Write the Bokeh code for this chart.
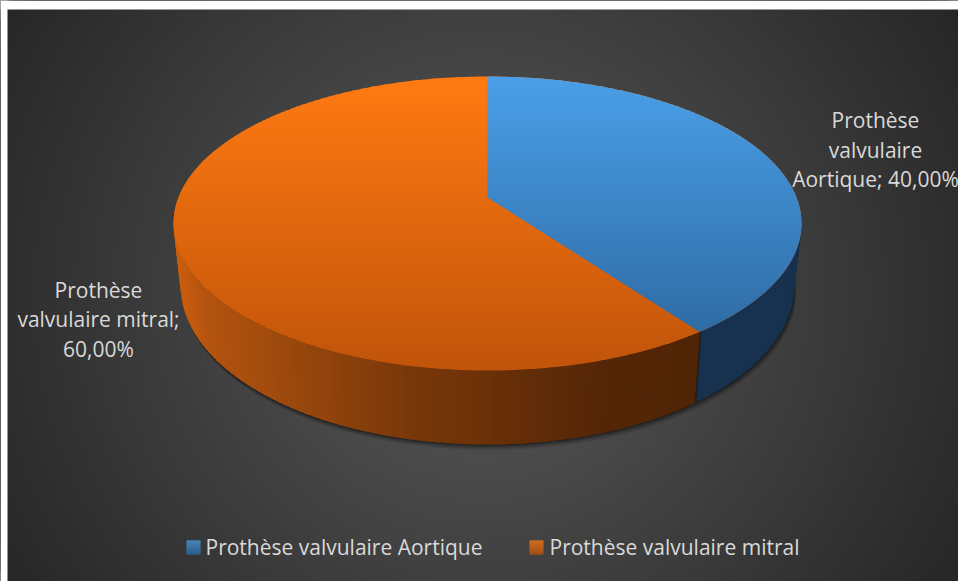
import numpy as np
from bokeh.plotting import figure
from bokeh.models import Range1d
from bokeh.core.properties import value
from bokeh.embed import file_html
from bokeh.resources import INLINE

categories = ["Prothèse valvulaire Aortique", "Prothèse valvulaire mitral"]
shares = [40.0, 60.0]
label_lines = [["Prothèse", "valvulaire", "Aortique; 40,00%"],
               ["Prothèse", "valvulaire mitral;", "60,00%"]]
top_colors = [((74, 159, 232), (47, 108, 165)), ((255, 122, 18), (192, 84, 10))]
FONT = "Open Sans"
LABEL = "#d9d9d9"

W, H = 958, 581
p = figure(width=W, height=H, x_range=Range1d(0, 958), y_range=Range1d(581, 0),
           output_backend="svg", toolbar_location=None, min_border=0,
           background_fill_color="#262626", border_fill_color="white")
p.axis.visible = False
p.grid.visible = False
p.outline_line_color = None

# radial background: one ring per grey level, outermost first
BG_X, BG_Y = 480.0, 295.0
levels = np.arange(38, 91)
radii = (90.5 - levels) / 0.093
p.circle(x=[BG_X] * len(levels), y=[BG_Y] * len(levels), radius=radii,
         fill_color=["#%02x%02x%02x" % (g, g, g) for g in levels], line_color=None)
p.quad(left=[0, 0], right=[7, 958], top=[0, 0], bottom=[581, 9], fill_color="white", line_color=None)

# pie geometry: a projective view of a unit disc
CX, C, A, B, K = 487.0, -0.1769, 107.56, 197.0, 309.0
S_X, S_Y, Y_REF, Y_BASE = 0.977, 1.077, 370.0, 444.0


def top_pt(t):
    t = np.radians(t)
    x, y = np.sin(t), -np.cos(t)
    den = 1 + C * y
    return CX + K * x / den, (A * y + B) / den


def base_pt(t):
    x, y = top_pt(t)
    return CX + S_X * (x - CX), Y_BASE + S_Y * (y - Y_REF)


def clip_band(xs, ys, y0, y1):
    def clip(px, py, lim, keep_below):
        ox, oy = [], []
        n = len(px)
        for i in range(n):
            x1, y_1, x2, y_2 = px[i], py[i], px[(i + 1) % n], py[(i + 1) % n]
            in1 = (y_1 >= lim) if keep_below else (y_1 <= lim)
            in2 = (y_2 >= lim) if keep_below else (y_2 <= lim)
            if in1:
                ox.append(x1); oy.append(y_1)
            if in1 != in2:
                f = (lim - y_1) / (y_2 - y_1)
                ox.append(x1 + f * (x2 - x1)); oy.append(lim)
        return ox, oy
    ax, ay = clip(list(xs), list(ys), y0, True)
    if not ax:
        return [], []
    return clip(ax, ay, y1, False)


def hexc(c):
    return "#%02x%02x%02x" % tuple(int(round(v)) for v in c)


def mix(c1, c2, f):
    return tuple(a + (b - a) * f for a, b in zip(c1, c2))


split = shares[0] / sum(shares) * 360.0

# soft shadow of the wall
ts = np.arange(0, 360, 1.0)
bx, by = base_pt(ts)
for off, alpha in [(6, .05), (5, .07), (4, .09), (3, .11), (2, .14), (1, .18)]:
    p.patch(bx + off * .4, by + off, fill_color="black", fill_alpha=alpha, line_color=None)

# side wall: overlapping pieces, so that no seams show
wall_x_stops = [172, 200, 300, 400, 487, 600, 700]
wall_r = [205, 180, 150, 122, 106, 84, 79]
wall_g = [95, 84, 70, 56, 48, 38, 37]
wall_b = [15, 15, 12, 10, 8, 7, 6]
wx, wy, wc = [], [], []
STEP = 1.5
for t in np.arange(292 - STEP, 70, -STEP):          # left to right
    t_end = t - STEP * 1.7 if t > split else max(t - STEP * 1.7, 70)
    if t > split:
        t_end = max(t_end, split)
    xa, ya = top_pt(np.array([t, t_end]))
    xb, yb = base_pt(np.array([t, t_end]))
    wx.append([xa[0], xa[1], xb[1], xb[0]])
    wy.append([ya[0], ya[1], yb[1], yb[0]])
    if t <= split:
        wc.append("#17314f")
    else:
        mx = float(xa[0])
        wc.append(hexc((np.interp(mx, wall_x_stops, wall_r),
                        np.interp(mx, wall_x_stops, wall_g),
                        np.interp(mx, wall_x_stops, wall_b))))
p.patches(wx, wy, fill_color=wc, line_color=None)

# top face with vertical gradients, drawn in bands
full_t = np.arange(0, 360, 1.0)
ex, ey = top_pt(full_t)
arc_t = np.linspace(0, split, 145)
ax_, ay_ = top_pt(arc_t)
sx = np.r_[CX, ax_]
sy = np.r_[B, ay_]
for (px, py), (c0, c1) in [((ex, ey), top_colors[1]), ((sx, sy), top_colors[0])]:
    xs, ys, cs = [], [], []
    pmin = float(py.min())
    pmax = float(py.max())
    for yb in np.arange(pmin, pmax, 2.0):
        qx, qy = clip_band(px, py, yb, yb + 2.6)
        if len(qx) >= 3:
            xs.append(qx); ys.append(qy)
            cs.append(hexc(mix(c0, c1, (yb - pmin) / (pmax - pmin))))
    p.patches(xs, ys, fill_color=cs, line_color=None)

# data labels
label_cx = [875, 98]
label_y = [[119, 149, 178], [289, 318, 348]]
for lines, cx, ly in zip(label_lines, label_cx, label_y):
    p.text(x=[cx] * 3, y=ly, text=lines, text_color=LABEL, text_font=value(FONT),
           text_font_size="21px", text_align="center", text_baseline="middle")

# legend
key_x = [186, 529]
text_x = [205, 549]
for i, name in enumerate(categories):
    c0, c1 = top_colors[i]
    for k in range(14):
        p.quad(left=key_x[i], right=key_x[i] + 14, top=540 + k, bottom=541 + k,
               fill_color=hexc(mix(c0, c1, k / 13)), line_color=None)
    p.text(x=[text_x[i]], y=[546], text=[name], text_color=LABEL, text_font=value(FONT),
           text_font_size="21px", text_align="left", text_baseline="middle")

open("out.html", "w").write(file_html(p, INLINE))
